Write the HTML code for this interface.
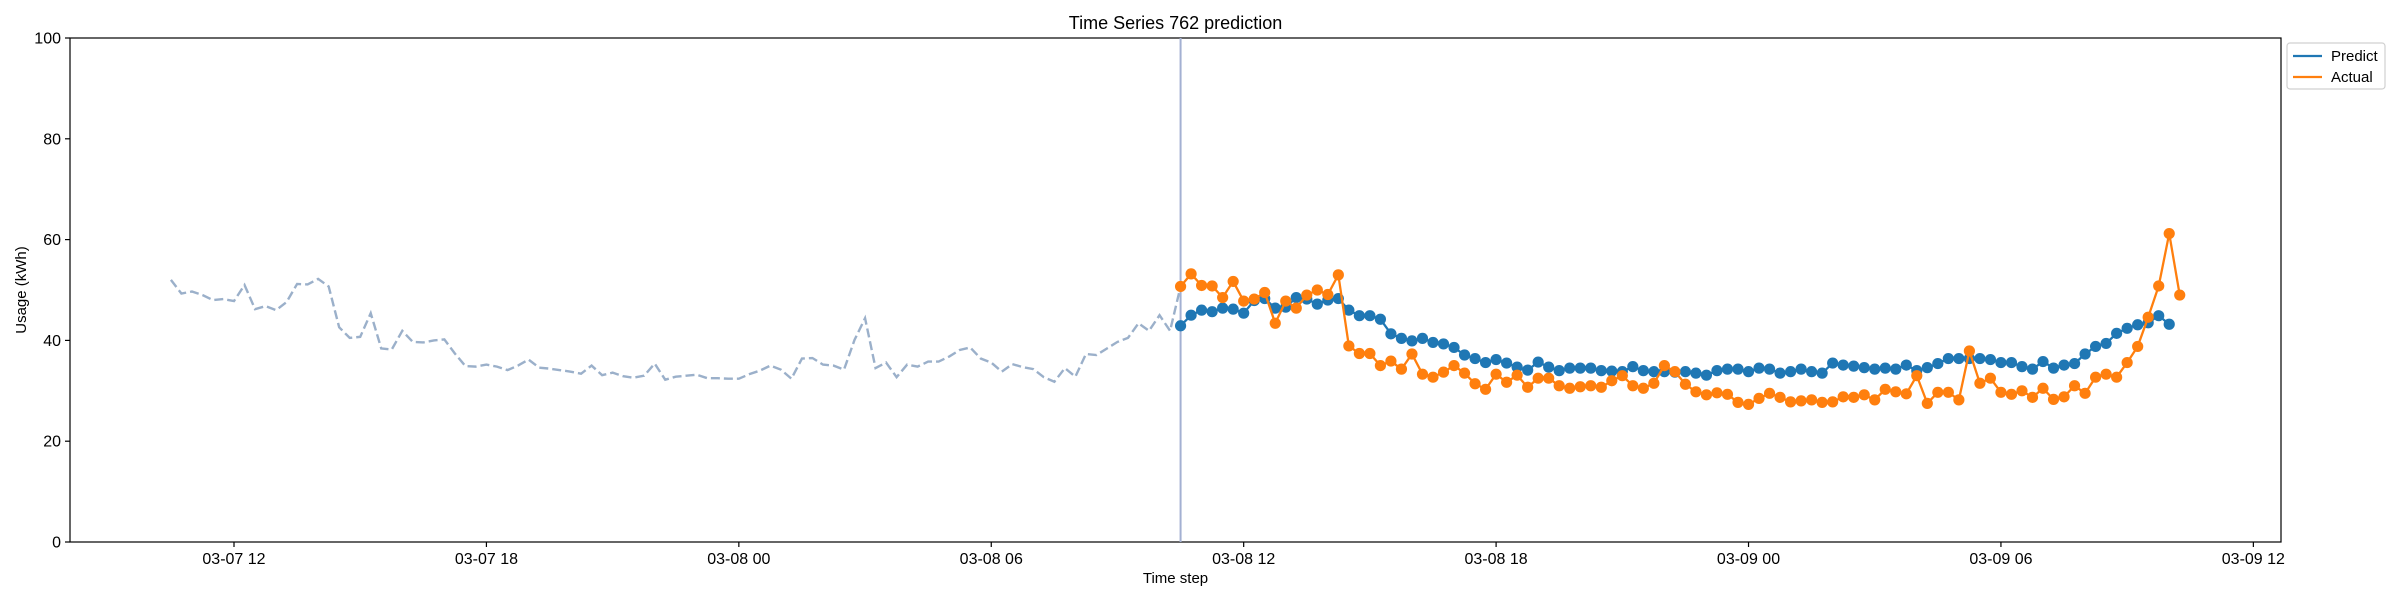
<!DOCTYPE html>
<html><head><meta charset="utf-8"><style>
html,body{margin:0;padding:0;background:#fff;}
svg{display:block;font-family:"Liberation Sans","DejaVu Sans",sans-serif;}
</style></head><body>
<svg id="chart" width="2400" height="600" viewBox="0 0 2400 600">
<g id="axes"></g>
</svg>
<script>
const yTicks=[0,20,40,60,80,100];
const xTickLabels=["03-07 12","03-07 18","03-08 00","03-08 06","03-08 12","03-08 18","03-09 00","03-09 06","03-09 12"];
const xTickHours=[12,18,24,30,36,42,48,54,60];
const historyStartHour=10.5;
const stepHours=0.25;
const history=[52,49.3,49.7,49,48,48.2,47.8,51,46.2,46.8,46,47.6,51.2,51.1,52.2,50.7,42.6,40.5,40.7,45.4,38.4,38.2,41.9,39.7,39.6,40,40.2,37.4,34.9,34.8,35.2,34.8,34.1,
35.0,36.2,34.6,34.4,34.1,33.8,33.4,35.0,33.1,33.6,32.9,32.6,33,35.4,32.2,32.8,33,33.2,32.5,32.5,32.4,32.4,33.3,34,35,34.2,32.4,36.4,36.5,35.2,35,34.2,
40.1,44.4,34.5,35.6,32.7,35.2,34.8,35.8,35.8,36.8,38.1,38.6,36.4,35.6,33.8,35.3,34.7,34.3,32.7,31.8,34.5,32.8,37.3,37.1,38.4,39.7,40.5,43.4,41.9,45,41.9];
const predict=[42.9,45.0,46.0,45.7,46.4,46.2,45.4,47.9,48.3,46.4,46.6,48.5,48.2,47.2,48.0,48.3,46.0,44.9,44.9,44.2,41.3,40.4,39.9,40.4,39.6,39.3,38.6,37.1,36.4,35.6,36.2,35.5,34.7,
34.1,35.7,34.7,34.0,34.5,34.5,34.5,34.0,33.9,33.8,34.8,34.0,33.8,33.8,33.7,33.8,33.5,33.1,34.0,34.3,34.3,33.8,34.5,34.3,33.5,33.8,34.3,33.8,33.5,35.5,35.1,34.9,
34.6,34.3,34.5,34.3,35.1,34.0,34.6,35.4,36.4,36.4,36.4,36.4,36.2,35.6,35.6,34.8,34.3,35.8,34.5,35.1,35.4,37.3,38.8,39.4,41.4,42.4,43.1,43.5,44.9,43.2];
const actual=[50.7,53.2,50.9,50.8,48.5,51.7,47.8,48.2,49.5,43.4,47.8,46.4,49.0,50.0,49.1,53.0,38.9,37.4,37.4,35.0,35.9,34.3,37.3,33.3,32.7,33.7,35.0,33.5,31.4,30.3,33.3,31.7,33.1,
30.7,32.5,32.5,31.0,30.5,30.8,31.0,30.7,32.0,33.0,31.0,30.5,31.5,35.0,33.8,31.3,29.8,29.2,29.6,29.3,27.7,27.3,28.5,29.5,28.7,27.8,28.0,28.2,27.7,27.8,28.8,28.7,
29.2,28.2,30.3,29.8,29.4,33.0,27.5,29.7,29.7,28.2,37.9,31.5,32.5,29.7,29.3,30.0,28.7,30.5,28.3,28.8,31.0,29.5,32.7,33.3,32.7,35.6,38.8,44.6,50.8,61.2,49.0];

const L=70,R=2281,T=38,B=542;
const X=h=>234+(h-12)*42.07;
const Y=v=>B-(v/100)*(B-T);
const NS="http://www.w3.org/2000/svg";
const svg=document.getElementById('chart');
function mk(tag,attrs,parent){const e=document.createElementNS(NS,tag);for(const k in attrs)e.setAttribute(k,attrs[k]);(parent||svg).appendChild(e);return e;}

const frame=mk('rect',{x:L,y:T,width:R-L,height:B-T,fill:'none',stroke:'#000','stroke-width':1.2});



yTicks.forEach(v=>{
  const y=Y(v);
  mk('line',{x1:L-5,x2:L,y1:y,y2:y,stroke:'#000','stroke-width':1.2});
  const t=mk('text',{x:L-9,y:y+5.5,'text-anchor':'end','font-size':16,fill:'#000'});
  t.textContent=v;
  
  
});
xTickHours.forEach((h,i)=>{
  const x=X(h);
  mk('line',{x1:x,x2:x,y1:B,y2:B+5,stroke:'#000','stroke-width':1.2});
  const t=mk('text',{x:x,y:B+22,'text-anchor':'middle','font-size':16,fill:'#000'});
  t.textContent=xTickLabels[i];
  
  
});

const title=mk('text',{x:(L+R)/2,y:29,'text-anchor':'middle','font-size':18,fill:'#000'});
title.textContent='Time Series 762 prediction';


const xt=mk('text',{x:(L+R)/2,y:583,'text-anchor':'middle','font-size':15,fill:'#000'});
xt.textContent='Time step';


const yt=mk('text',{x:0,y:0,'text-anchor':'middle','font-size':15,fill:'#000',transform:'translate(26,'+((T+B)/2)+') rotate(-90)'});
yt.textContent='Usage (kWh)';



const hx=i=>X(historyStartHour+i*stepHours);
let hp=history.map((v,i)=>hx(i)+','+Y(v));
hp.push(hx(history.length)+','+Y(actual[0]));
const hl=mk('polyline',{points:hp.join(' '),fill:'none',stroke:'#9bb0ca','stroke-width':2.4,'stroke-dasharray':'9,4'});



const sx=hx(history.length);
const vl=mk('line',{x1:sx,x2:sx,y1:T,y2:B,stroke:'#a3b0d2','stroke-width':2});



function series(arr,color,name){
  const g=mk('g',{});
  
  
  const px=j=>hx(history.length+j);
  const pl=mk('polyline',{points:arr.map((v,j)=>px(j)+','+Y(v)).join(' '),fill:'none',stroke:color,'stroke-width':2.3},g);
  
  
  arr.forEach((v,j)=>{
    const c=mk('circle',{cx:px(j),cy:Y(v),r:5.6,fill:color},g);
    
    
  });
}
series(predict,'#1f77b4','predict');
series(actual,'#ff7f0e','actual');

const lg=mk('g',{});


mk('rect',{x:2287,y:43,width:98,height:46,rx:3,fill:'#fff',stroke:'#d0d0d0','stroke-width':1.2},lg);
[['Predict','#1f77b4',56],['Actual','#ff7f0e',77]].forEach(([n,c,y])=>{
  const e=mk('g',{},lg);
  
  
  mk('line',{x1:2293,x2:2322,y1:y,y2:y,stroke:c,'stroke-width':2.3},e);
  const t=mk('text',{x:2331,y:y+5,'font-size':15,fill:'#000'},e);
  t.textContent=n;
});
</script>
</body></html>
